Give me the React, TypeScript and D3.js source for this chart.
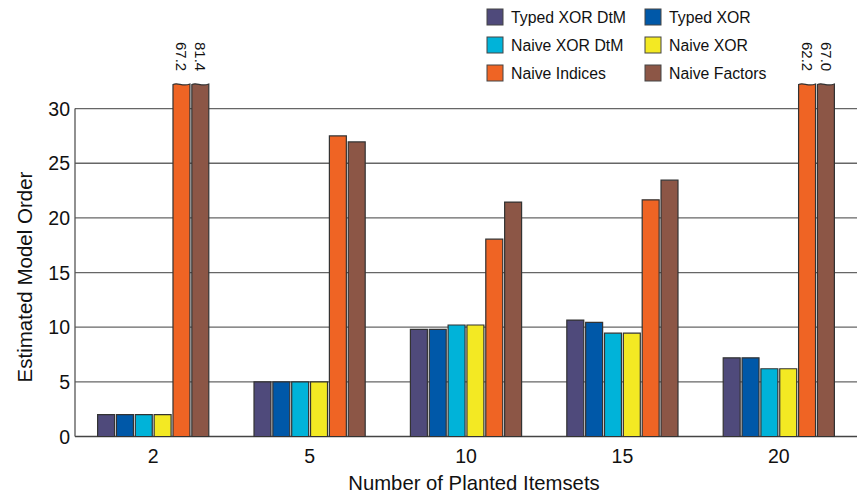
import * as d3 from "d3";

const groups = ["2", "5", "10", "15", "20"];
const seriesNames = ["Typed XOR DtM", "Typed XOR", "Naive XOR DtM", "Naive XOR", "Naive Indices", "Naive Factors"];
const seriesColors = ["#4f4a7b", "#0058a8", "#00b3d9", "#f3e923", "#ef6424", "#8c5646"];
const typedDtm = [2, 5, 9.8, 10.65, 7.2];
const typedXor = [2, 5, 9.8, 10.45, 7.2];
const naiveDtm = [2, 5, 10.2, 9.45, 6.2];
const naiveXor = [2, 5, 10.2, 9.45, 6.2];
const naiveIndices = [67.2, 27.5, 18.05, 21.65, 62.2];
const naiveFactors = [81.4, 26.95, 21.45, 23.45, 67.0];
const allSeries = [typedDtm, typedXor, naiveDtm, naiveXor, naiveIndices, naiveFactors];
const yTicks = [0, 5, 10, 15, 20, 25, 30];
const yCap = 32.2;

const width = 860;
const height = 496;
const marginLeft = 75;
const marginRight = 3;
const plotBottom = 436.5;
const pxPerUnit = 10.93;

export default function App() {
  const x = d3
    .scaleBand()
    .domain(groups)
    .range([marginLeft, width - marginRight])
    .paddingInner(0.265)
    .paddingOuter(0.1325);
  const xs = d3
    .scaleBand()
    .domain(seriesNames)
    .range([0, x.bandwidth()])
    .padding(0.1);
  const y = d3
    .scaleLinear()
    .domain([0, 30])
    .range([plotBottom, plotBottom - 30 * pxPerUnit]);

  const bars: any[] = [];
  allSeries.forEach((vals, si) => {
    vals.forEach((v, gi) => {
      bars.push({ g: groups[gi], s: seriesNames[si], v, color: seriesColors[si] });
    });
  });

  const barPath = (d: any) => {
    const x0 = (x(d.g) as number) + (xs(d.s) as number);
    const w = xs.bandwidth();
    const x1 = x0 + w;
    const b = y(0);
    if (d.v <= yCap) {
      const t = y(d.v);
      return `M${x0},${b}V${t}H${x1}V${b}Z`;
    }
    const t = y(yCap);
    // wavy top for broken bar
    return `M${x0},${b}V${t}C${x0 + w * 0.3},${t - 2.5} ${x0 + w * 0.55},${t + 2.5} ${x1},${t - 0.5}V${b}Z`;
  };

  const font = "'Liberation Sans', Arial, sans-serif";

  return (
    <svg width={width} height={height} style={{ position: "absolute", left: 0, top: 0 }} fontFamily={font}>
      <rect width={width} height={height} fill="#fff" />
      {/* grid */}
      {yTicks.map((t) => (
        <line key={t} x1={marginLeft} x2={width - marginRight} y1={y(t)} y2={y(t)} stroke={t === 0 ? "#444" : "#666"} strokeWidth={1.3} />
      ))}
      <line x1={marginLeft} x2={marginLeft} y1={y(30)} y2={y(0)} stroke="#555" strokeWidth={1.3} />
      {yTicks.map((t) => (
        <text key={t} x={marginLeft - 5} y={y(t)} dy="0.36em" textAnchor="end" fontSize={19.5} fill="#111">
          {t}
        </text>
      ))}
      {groups.map((g) => (
        <text key={g} x={(x(g) as number) + x.bandwidth() / 2} y={463} textAnchor="middle" fontSize={19.5} fill="#111">
          {g}
        </text>
      ))}
      {bars.map((d, i) => (
        <path key={i} d={barPath(d)} fill={d.color} stroke="#333" strokeWidth={1.2} />
      ))}
      {bars
        .filter((d) => d.v > yCap)
        .map((d, i) => (
          <text
            key={"l" + i}
            transform={`translate(${(x(d.g) as number) + (xs(d.s) as number) + xs.bandwidth() / 2 - 5},42) rotate(90)`}
            fontSize={15}
            fill="#111"
          >
            {d.v.toFixed(1)}
          </text>
        ))}
      <text x={474} y={490} textAnchor="middle" fontSize={20.3} fill="#111">
        Number of Planted Itemsets
      </text>
      <text transform={`translate(32,277) rotate(-90)`} textAnchor="middle" fontSize={20.5} fill="#111">
        Estimated Model Order
      </text>
      {/* legend */}
      {seriesNames.map((s, i) => {
        const lx = i % 2 === 0 ? 487 : 645;
        const ly = 9 + Math.floor(i / 2) * 28;
        return (
          <g key={s}>
            <rect x={lx} y={ly} width={16} height={16} fill={seriesColors[i]} stroke="#444" strokeWidth={1} />
            <text x={lx + 24} y={ly + 8} dy="0.36em" fontSize={15.8} fill="#111">
              {s}
            </text>
          </g>
        );
      })}
    </svg>
  );
}
